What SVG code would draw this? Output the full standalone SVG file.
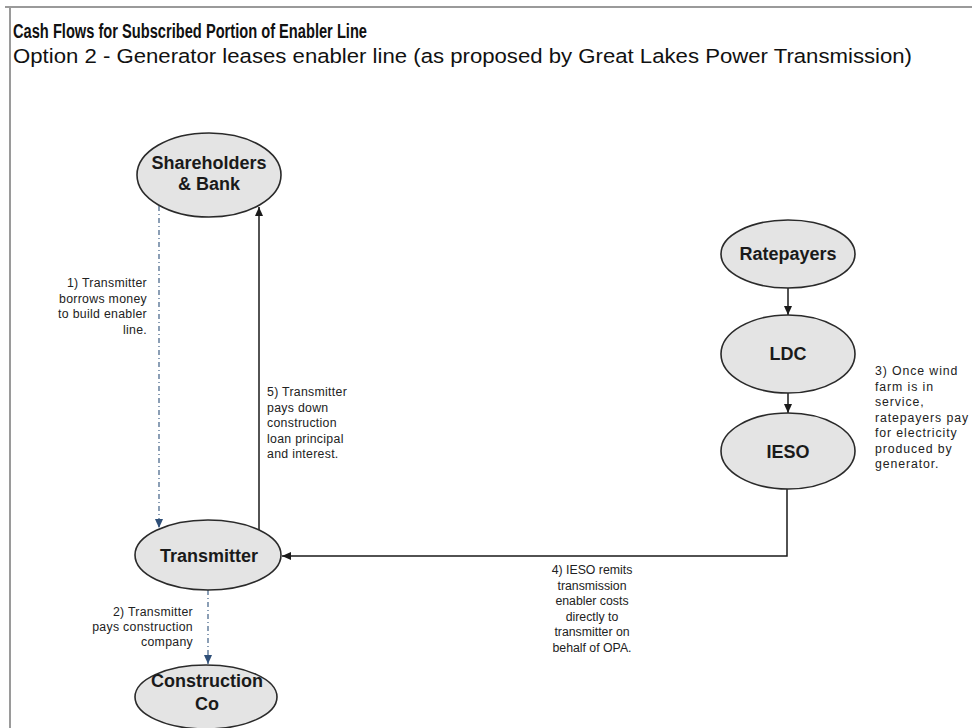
<svg xmlns="http://www.w3.org/2000/svg" width="972" height="728" viewBox="0 0 972 728">
<style>
.node ellipse{fill:#e4e4e4;stroke:#2a2a2a;stroke-width:1.6}
.node text{font-family:"Liberation Sans",Arial,sans-serif;font-weight:bold;font-size:18px;fill:#1a1a1a;text-anchor:middle}
.lbl{font-family:"Liberation Sans",Arial,sans-serif;font-size:12.3px;fill:#222}
.solid{fill:none;stroke:#1a1a1a;stroke-width:1.5}
.dash{fill:none;stroke:#3f5f85;stroke-width:1.2;stroke-dasharray:5 3 1 3}
</style>
<defs>
<marker id="ah" markerUnits="userSpaceOnUse" markerWidth="10" markerHeight="10" refX="9" refY="5" orient="auto">
<path d="M0,1 L9,5 L0,9 Z" fill="#1a1a1a"/>
</marker>
<marker id="ahb" markerUnits="userSpaceOnUse" markerWidth="10" markerHeight="10" refX="9" refY="5" orient="auto">
<path d="M0,1 L9,5 L0,9 Z" fill="#2f4f78"/>
</marker>
</defs>
<rect width="972" height="728" fill="#ffffff"/>
<g id="frame">
<line x1="5" y1="7" x2="972" y2="7" stroke="#9a9a9a" stroke-width="2"/>
<line x1="10" y1="7" x2="10" y2="728" stroke="#9a9a9a" stroke-width="2"/>
</g>
<g id="title">
<text x="13" y="38" font-family="'Liberation Sans Narrow','Liberation Sans',Arial,sans-serif" font-weight="bold" font-size="20" fill="#111" textLength="354" lengthAdjust="spacingAndGlyphs">Cash Flows for Subscribed Portion of Enabler Line</text>
<text x="13" y="63" font-family="'Liberation Sans Narrow','Liberation Sans',Arial,sans-serif" font-size="20.5" fill="#111" textLength="899" lengthAdjust="spacingAndGlyphs">Option 2 - Generator leases enabler line (as proposed by Great Lakes Power Transmission)</text>
</g>
<g id="connectors">
<path class="dash" d="M159,206 V528" marker-end="url(#ahb)"/>
<path class="solid" d="M259,530 V207" marker-end="url(#ah)"/>
<path class="solid" d="M788,288 V315" marker-end="url(#ah)"/>
<path class="solid" d="M788,393 V413" marker-end="url(#ah)"/>
<path class="solid" d="M787,489 V556 H282" marker-end="url(#ah)"/>
<path class="dash" d="M208,590 V664" marker-end="url(#ahb)"/>
</g>
<g id="labels">
<text class="lbl" text-anchor="end" letter-spacing="0.3"><tspan x="147" y="287">1)  Transmitter</tspan><tspan x="147" y="302.5">borrows money</tspan><tspan x="147" y="318">to build enabler</tspan><tspan x="147" y="333.5">line.</tspan></text>
<text class="lbl" letter-spacing="0.3"><tspan x="267" y="396">5)  Transmitter</tspan><tspan x="267" y="411.5">pays down</tspan><tspan x="267" y="427">construction</tspan><tspan x="267" y="442.5">loan principal</tspan><tspan x="267" y="458">and interest.</tspan></text>
<text class="lbl" letter-spacing="0.9"><tspan x="875" y="375">3) Once wind</tspan><tspan x="875" y="390.5">farm is in</tspan><tspan x="875" y="406">service,</tspan><tspan x="875" y="421.5">ratepayers pay</tspan><tspan x="875" y="437">for electricity</tspan><tspan x="875" y="452.5">produced by</tspan><tspan x="875" y="468">generator.</tspan></text>
<text class="lbl" text-anchor="middle"><tspan x="592" y="574">4) IESO remits</tspan><tspan x="592" y="589.5">transmission</tspan><tspan x="592" y="605">enabler costs</tspan><tspan x="592" y="620.5">directly to</tspan><tspan x="592" y="636">transmitter on</tspan><tspan x="592" y="651.5">behalf of OPA.</tspan></text>
<text class="lbl" text-anchor="end" letter-spacing="0.3"><tspan x="193" y="616">2)  Transmitter</tspan><tspan x="193" y="631">pays construction</tspan><tspan x="193" y="646">company</tspan></text>
</g>
<g id="shareholders" class="node"><ellipse cx="209" cy="175" rx="72" ry="42"/><text x="209" y="169">Shareholders</text><text x="209" y="190">&amp; Bank</text></g>
<g id="ratepayers" class="node"><ellipse cx="788" cy="254" rx="67" ry="34"/><text x="788" y="260">Ratepayers</text></g>
<g id="ldc" class="node"><ellipse cx="788" cy="354" rx="67" ry="39"/><text x="788" y="360">LDC</text></g>
<g id="ieso" class="node"><ellipse cx="788" cy="451" rx="67" ry="38"/><text x="788" y="458">IESO</text></g>
<g id="transmitter" class="node"><ellipse cx="208" cy="555" rx="73" ry="35"/><text x="209" y="562">Transmitter</text></g>
<g id="construction" class="node"><ellipse cx="206" cy="697" rx="71" ry="32"/><text x="207" y="687">Construction</text><text x="207" y="710">Co</text></g>
</svg>
